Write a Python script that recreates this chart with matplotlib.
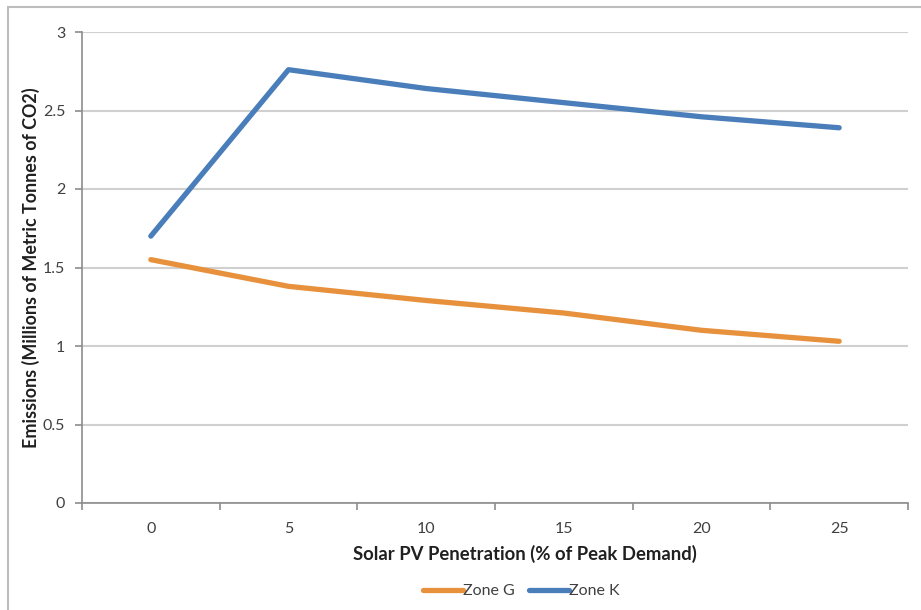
import matplotlib
matplotlib.use("Agg")
import matplotlib.pyplot as plt
from matplotlib.patches import Rectangle
import numpy as np

# emissions by PV penetration level
penetration = ["0", "5", "10", "15", "20", "25"]
zone_g = [1.55, 1.38, 1.29, 1.21, 1.10, 1.03]
zone_k = [1.70, 2.76, 2.64, 2.55, 2.46, 2.39]

plt.rcParams["font.family"] = ["Lato", "DejaVu Sans"]

W, H = 921, 610
fig = plt.figure(figsize=(W / 100, H / 100), dpi=100)

# outer chart frame (runs off the right and bottom edges)
fig.patches.append(Rectangle((8 / W, -0.2), 1.2, 1.2 - 7 / H, transform=fig.transFigure,
                             fill=False, edgecolor="#bdbdbd", linewidth=1.5))

ax = fig.add_axes([82 / W, (H - 503) / H, (908 - 82) / W, (503 - 32) / H])
x = np.arange(len(penetration))
ax.plot(x, zone_g, color="#e8913d", linewidth=3.8, solid_capstyle="round",
        solid_joinstyle="round", label="Zone G")
ax.plot(x, zone_k, color="#4a7ebb", linewidth=3.8, solid_capstyle="round",
        solid_joinstyle="round", label="Zone K")

ax.set_xlim(-0.5, len(penetration) - 0.5)
ax.set_ylim(0, 3)
ax.set_yticks(np.arange(0, 3.01, 0.5))
ax.set_yticklabels(["0", "0.5", "1", "1.5", "2", "2.5", "3"])
ax.set_xticks(x)
ax.set_xticklabels(penetration)
ax.set_xticks(np.arange(-0.5, len(penetration)), minor=True)
ax.grid(axis="y", color="#d0d0d0", linewidth=1.5)
ax.set_axisbelow(True)

for s in ("top", "right"):
    ax.spines[s].set_visible(False)
for s in ("left", "bottom"):
    ax.spines[s].set_color("#8c8c8c")
    ax.spines[s].set_linewidth(1.2)

ax.tick_params(axis="x", which="major", length=0, pad=14, labelsize=11.5, labelcolor="#404040")
ax.tick_params(axis="x", which="minor", length=5, color="#8c8c8c", width=1.2)
ax.tick_params(axis="y", length=5, color="#8c8c8c", width=1.2, pad=7,
               labelsize=11.5, labelcolor="#404040")

ax.set_xlabel("Solar PV Penetration (% of Peak Demand)", fontsize=13.3,
              fontweight="bold", labelpad=6, color="#202020")
ax.set_ylabel("Emissions (Millions of Metric Tonnes of CO2)", fontsize=12.9,
              fontweight="bold", labelpad=2, color="#202020")
# axis title sits a little right of the plot centre
ax.xaxis.label.set_x(0.536)

ax.legend(loc="center", bbox_to_anchor=(0.532, -0.187), ncol=2, frameon=False,
          handlelength=2.5, handletextpad=0.0, columnspacing=0.9,
          fontsize=11.5, labelcolor="#404040")

fig.savefig("out.png", dpi=100)
